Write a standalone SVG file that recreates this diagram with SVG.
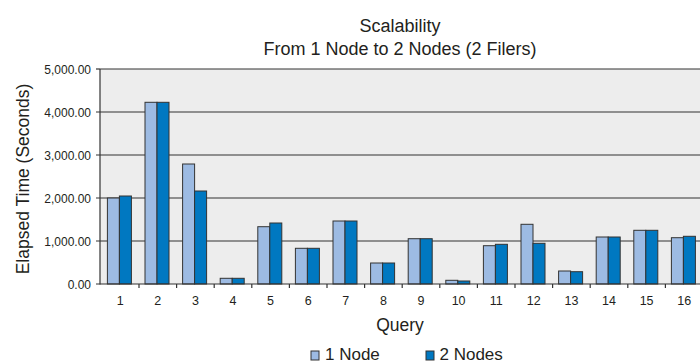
<svg xmlns="http://www.w3.org/2000/svg" width="700" height="364" viewBox="0 0 700 364">
<style>
text{font-family:"Liberation Sans",Arial,sans-serif;fill:#231f20}
.t{font-size:18px;text-anchor:middle}
.yl{font-size:12px;text-anchor:end}
.xl{font-size:12.5px;text-anchor:middle}
.ax{font-size:17.5px}
.lg{font-size:17px}
.grid{stroke:#333;stroke-width:1.2}
.b1{fill:#9dbbe3;stroke:#333;stroke-width:1}
.b2{fill:#0078c1;stroke:#333;stroke-width:1}
</style>
<rect width="700" height="364" fill="#fff"/>
<g id="title">
<text class="t" x="400" y="32">Scalability</text>
<text class="t" x="400" y="55">From 1 Node to 2 Nodes (2 Filers)</text>
</g>
<g id="plot">
<rect x="100" y="69" width="600" height="215" fill="#ededed"/>
<line class="grid" x1="100" y1="69" x2="700" y2="69"/>
<line class="grid" x1="96" y1="112" x2="700" y2="112"/>
<line class="grid" x1="96" y1="155" x2="700" y2="155"/>
<line class="grid" x1="96" y1="198" x2="700" y2="198"/>
<line class="grid" x1="96" y1="241" x2="700" y2="241"/>
<line class="grid" x1="96" y1="69" x2="100" y2="69"/>
</g>
<g id="bars">
<rect class="b1" x="107.4" y="198" width="12" height="86"/><rect class="b2" x="119.4" y="196" width="12" height="88"/>
<rect class="b1" x="145" y="102.3" width="12" height="181.7"/><rect class="b2" x="157" y="102.3" width="12" height="181.7"/>
<rect class="b1" x="182.6" y="164" width="12" height="120"/><rect class="b2" x="194.6" y="191" width="12" height="93"/>
<rect class="b1" x="220.2" y="278.3" width="12" height="5.7"/><rect class="b2" x="232.2" y="278.3" width="12" height="5.7"/>
<rect class="b1" x="257.8" y="226.7" width="12" height="57.3"/><rect class="b2" x="269.8" y="223" width="12" height="61"/>
<rect class="b1" x="295.4" y="248.3" width="12" height="35.7"/><rect class="b2" x="307.4" y="248.3" width="12" height="35.7"/>
<rect class="b1" x="333" y="221" width="12" height="63"/><rect class="b2" x="345" y="221" width="12" height="63"/>
<rect class="b1" x="370.6" y="263" width="12" height="21"/><rect class="b2" x="382.6" y="263" width="12" height="21"/>
<rect class="b1" x="408.2" y="238.7" width="12" height="45.3"/><rect class="b2" x="420.2" y="238.7" width="12" height="45.3"/>
<rect class="b1" x="445.8" y="280.3" width="12" height="3.7"/><rect class="b2" x="457.8" y="281" width="12" height="3"/>
<rect class="b1" x="483.4" y="245.7" width="12" height="38.3"/><rect class="b2" x="495.4" y="244.3" width="12" height="39.7"/>
<rect class="b1" x="521" y="224.3" width="12" height="59.7"/><rect class="b2" x="533" y="243.3" width="12" height="40.7"/>
<rect class="b1" x="558.6" y="271" width="12" height="13"/><rect class="b2" x="570.6" y="271.7" width="12" height="12.3"/>
<rect class="b1" x="596.2" y="237" width="12" height="47"/><rect class="b2" x="608.2" y="237" width="12" height="47"/>
<rect class="b1" x="633.8" y="230.3" width="12" height="53.7"/><rect class="b2" x="645.8" y="230.3" width="12" height="53.7"/>
<rect class="b1" x="671.4" y="237.7" width="12" height="46.3"/><rect class="b2" x="683.4" y="236.3" width="12" height="47.7"/>
</g>
<g id="axes">
<line class="grid" x1="100" y1="69" x2="100" y2="284.5"/>
<line class="grid" x1="96" y1="284" x2="700" y2="284"/>
<path class="grid" fill="none" d="M139 284v4M176.6 284v4M214.2 284v4M251.8 284v4M289.4 284v4M327 284v4M364.6 284v4M402.2 284v4M439.8 284v4M477.4 284v4M515 284v4M552.6 284v4M590.2 284v4M627.8 284v4M665.4 284v4"/>
</g>
<g id="y-labels">
<text class="yl" x="91" y="73.5">5,000.00</text>
<text class="yl" x="91" y="116.5">4,000.00</text>
<text class="yl" x="91" y="159.5">3,000.00</text>
<text class="yl" x="91" y="202.5">2,000.00</text>
<text class="yl" x="91" y="245.5">1,000.00</text>
<text class="yl" x="91" y="288.5">0.00</text>
</g>
<g id="x-labels">
<text class="xl" x="120.2" y="305">1</text>
<text class="xl" x="157.8" y="305">2</text>
<text class="xl" x="195.4" y="305">3</text>
<text class="xl" x="233" y="305">4</text>
<text class="xl" x="270.6" y="305">5</text>
<text class="xl" x="308.2" y="305">6</text>
<text class="xl" x="345.8" y="305">7</text>
<text class="xl" x="383.4" y="305">8</text>
<text class="xl" x="421" y="305">9</text>
<text class="xl" x="458.6" y="305">10</text>
<text class="xl" x="496.2" y="305">11</text>
<text class="xl" x="533.8" y="305">12</text>
<text class="xl" x="571.4" y="305">13</text>
<text class="xl" x="609" y="305">14</text>
<text class="xl" x="646.6" y="305">15</text>
<text class="xl" x="684.2" y="305">16</text>
</g>
<g id="axis-titles">
<text class="ax" x="400" y="331" text-anchor="middle">Query</text>
<text class="ax" transform="translate(29,179) rotate(-90)" text-anchor="middle">Elapsed Time (Seconds)</text>
</g>
<g id="legend">
<rect class="b1" x="311" y="351" width="8" height="9"/>
<text class="lg" x="325" y="360">1 Node</text>
<rect class="b2" x="426" y="351" width="8" height="9"/>
<text class="lg" x="439.5" y="360">2 Nodes</text>
</g>
</svg>
